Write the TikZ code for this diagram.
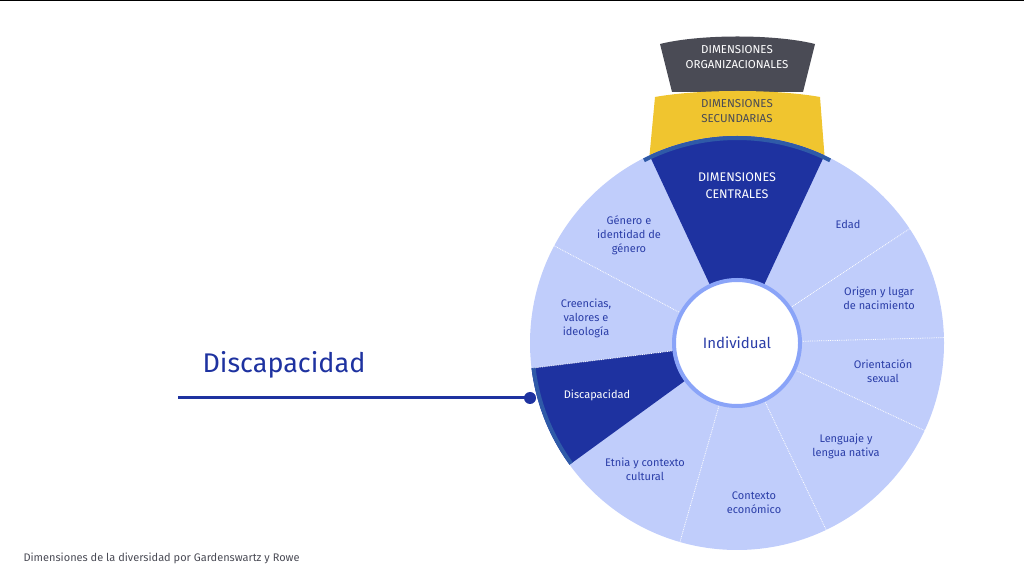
\documentclass[tikz,border=0pt]{standalone}
\usepackage{fontspec}
\usetikzlibrary{calc}
\setmainfont{Fira Sans}
\definecolor{disc}{HTML}{C0CDFB}
\definecolor{dark}{HTML}{1E32A0}
\definecolor{edge}{HTML}{2F5AA8}
\definecolor{ring}{HTML}{8AA4F8}
\definecolor{txt}{HTML}{2B3EA8}
\definecolor{yel}{HTML}{F0C52F}
\definecolor{gry}{HTML}{4A4B55}
\begin{document}
\begin{tikzpicture}[x=1pt,y=1pt,
  lab/.style={align=center,text=txt,font=\fontsize{11}{14}\selectfont},
  wlab/.style={align=center,text=white,font=\fontsize{11.5}{14.5}\selectfont},
  divline/.style={white,densely dotted,line width=0.8pt}]
\useasboundingbox (0,0) rectangle (1024,580);
\draw[black,line width=1pt] (0,579.5) -- (1024,579.5);
\coordinate (C) at (737,237);
% organizational band
\fill[gry] (672,488) -- (660,536) .. controls (700,546) and (775,546) .. (815,536) -- (803,488) -- cycle;
% secondary band
\fill[yel] ($(C)+(115:207)$) -- (655,483) .. controls (700,491) and (775,491) .. (820,483) -- ($(C)+(65:207)$) -- cycle;
% disc
\fill[disc] (C) circle (207);
% central wedge
\fill[dark] ($(C)+(65:64)$) -- ($(C)+(65:207)$) arc[start angle=65,end angle=115,radius=207] -- ($(C)+(115:64)$) -- cycle;
\draw[edge,line width=4pt] ($(C)+(63:205)$) arc[start angle=63,end angle=117,radius=205];
% discapacidad wedge
\fill[dark] ($(C)+(187:64)$) -- ($(C)+(187:207)$) arc[start angle=187,end angle=216,radius=207] -- ($(C)+(216:64)$) -- cycle;
\draw[edge,line width=4pt] ($(C)+(187:205)$) arc[start angle=187,end angle=216,radius=205];
% dividers
\foreach \a in {33.5,1.5,-25,-64.5,-106,152}
  \draw[divline] ($(C)+(\a:66)$) -- ($(C)+(\a:207)$);
\draw[divline] ($(C)+(187:66)$) -- ($(C)+(187:205)$);
% inner circle
\fill[white] (C) circle (63);
\draw[ring,line width=4pt] (C) circle (63);
% labels
\node[wlab,text=white] (org) at (737,523) {DIMENSIONES\\ORGANIZACIONALES};
\node[wlab,text=gry] (sec) at (737,469) {DIMENSIONES\\SECUNDARIAS};
\node[wlab,font=\fontsize{12.5}{17}\selectfont] (cen) at (737,394) {DIMENSIONES\\CENTRALES};
\node[lab] (gen) at (629,345) {Género e\\identidad de\\género};
\node[lab] (eda) at (848,356) {Edad};
\node[lab] (ori) at (879,282) {Origen y lugar\\de nacimiento};
\node[lab] (cre) at (586,262) {Creencias,\\valores e\\ideología};
\node[text=txt,font=\fontsize{15}{18}\selectfont] (ind) at (C) {Individual};
\node[lab] (sex) at (883,209) {Orientación\\sexual};
\node[wlab,font=\fontsize{11}{14}\selectfont] (dis) at (597,185) {Discapacidad};
\node[lab] (len) at (846,134) {Lenguaje y\\lengua nativa};
\node[lab] (etn) at (645,111) {Etnia y contexto\\cultural};
\node[lab] (eco) at (754,77) {Contexto\\económico};
% callout
\node[text=dark,font=\fontsize{27}{32}\selectfont] (big) at (284,215) {Discapacidad};
\coordinate (lend) at (178,182);
\fill[dark] (530,182) circle (6) coordinate (dot);
\draw[dark,line width=3pt] (lend) -- (dot);
\node[anchor=west,text=gry,font=\fontsize{11}{13}\selectfont] (cap) at (20,22) {Dimensiones de la diversidad por Gardenswartz y Rowe};
\end{tikzpicture}
\end{document}
